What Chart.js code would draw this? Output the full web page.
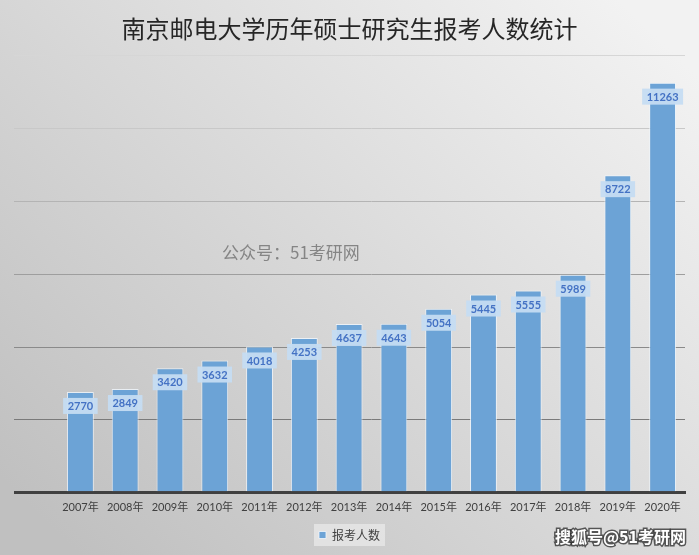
<!DOCTYPE html>
<html>
<head>
<meta charset="utf-8">
<script src="https://cdn.jsdelivr.net/npm/chart.js@4.4.0/dist/chart.umd.min.js"></script>
<style>
  html, body { margin: 0; padding: 0; background: #fff; }
</style>
</head>
<body>
<canvas id="chart" width="699" height="555"></canvas>
<script>
// data
const years = ['2007年', '2008年', '2009年', '2010年', '2011年', '2012年', '2013年',
               '2014年', '2015年', '2016年', '2017年', '2018年', '2019年', '2020年'];
const applicants = [2770, 2849, 3420, 3632, 4018, 4253, 4637, 4643, 5054, 5445, 5555, 5989, 8722, 11263];
const yMax = 12000;
const yStep = 2000;

const cjk = '"Noto Sans CJK SC", sans-serif';
const latin = 'Lato, "Noto Sans CJK SC", sans-serif';

// grid lines fade out toward the top
const gridShades = ['#404040', '#7a7a7a', '#8a8a8a', '#9e9e9e', '#b4b4b4', '#c8c8c8', '#d6d6d6'];

// grey gradient behind everything + box behind legend
const backdrop = {
    id: 'backdrop',
    beforeDraw(chart) {
        const { ctx, width, height } = chart;
        ctx.save();
        const g = ctx.createLinearGradient(80, height, 620, 0);
        g.addColorStop(0, '#c0c0c0');
        g.addColorStop(1, '#f2f2f2');
        ctx.fillStyle = g;
        ctx.fillRect(0, 0, width, height);

        const box = chart.legend && chart.legend.legendHitBoxes && chart.legend.legendHitBoxes[0];
        if (box) {
            ctx.fillStyle = 'rgba(228,228,228,0.9)';
            ctx.fillRect(box.left - 5, box.top - 5, box.width + 10, box.height + 10);
        }
        ctx.restore();
    }
};

// watermark in the plot
const watermark = {
    id: 'watermark',
    beforeDatasetsDraw(chart) {
        const { ctx } = chart;
        ctx.save();
        ctx.font = '17px ' + cjk;
        ctx.fillStyle = '#858585';
        ctx.textAlign = 'left';
        ctx.textBaseline = 'middle';
        ctx.fillText('公众号：51考研网', 222, 253);
        ctx.restore();
    },
    afterDraw(chart) {
        const { ctx } = chart;
        ctx.save();
        ctx.font = 'bold 16px ' + cjk;
        ctx.textAlign = 'right';
        ctx.textBaseline = 'middle';
        ctx.lineWidth = 3;
        ctx.strokeStyle = 'rgba(40,40,40,0.75)';
        ctx.strokeText('搜狐号@51考研网', 686, 537);
        ctx.fillStyle = '#ffffff';
        ctx.fillText('搜狐号@51考研网', 686, 537);
        ctx.restore();
    }
};

// value tags sitting just inside the top of each bar
const valueTags = {
    id: 'valueTags',
    afterDatasetsDraw(chart) {
        const { ctx } = chart;
        const meta = chart.getDatasetMeta(0);
        ctx.save();
        ctx.font = 'bold 11px Lato, sans-serif';
        ctx.textAlign = 'center';
        ctx.textBaseline = 'middle';
        meta.data.forEach((bar, i) => {
            const txt = String(applicants[i]);
            const w = ctx.measureText(txt).width + 9;
            const h = 16;
            const top = bar.y + 6;
            ctx.fillStyle = 'rgba(197,220,242,0.95)';
            ctx.fillRect(bar.x - w / 2, top, w, h);
            ctx.fillStyle = '#4472c4';
            ctx.fillText(txt, bar.x, top + h / 2 + 0.5);
        });
        ctx.restore();
    }
};

new Chart(document.getElementById('chart'), {
    type: 'bar',
    data: {
        labels: years,
        datasets: [{
            label: '报考人数',
            data: applicants,
            backgroundColor: '#6ca3d6',
            borderColor: 'rgba(240,246,252,0.8)',
            borderWidth: 1,
            barPercentage: 0.6,
            categoryPercentage: 1
        }]
    },
    options: {
        responsive: false,
        animation: false,
        devicePixelRatio: 1,
        layout: { padding: { left: 14, right: 14, top: 0, bottom: 4 } },
        scales: {
            x: {
                grid: { display: false },
                border: { color: '#404040', width: 3 },
                ticks: {
                    color: '#404040',
                    font: { family: latin, size: 11 },
                    padding: 0,
                    maxRotation: 0,
                    minRotation: 0,
                    autoSkip: false
                }
            },
            y: {
                min: 0,
                max: yMax,
                ticks: { display: false, stepSize: yStep },
                border: { display: false },
                grid: {
                    drawTicks: true,
                    tickLength: 44,
                    color: (c) => gridShades[c.index] || '#d6d6d6',
                    lineWidth: (c) => c.index === 0 ? 3 : 1
                }
            }
        },
        plugins: {
            title: {
                display: true,
                text: '南京邮电大学历年硕士研究生报考人数统计',
                color: '#262626',
                font: { family: cjk, size: 24, weight: 'normal' },
                padding: { top: 14, bottom: 13 }
            },
            legend: {
                position: 'bottom',
                labels: {
                    color: '#404040',
                    font: { family: cjk, size: 12 },
                    boxWidth: 7,
                    boxHeight: 7,
                    padding: 15
                }
            },
            tooltip: { enabled: false }
        }
    },
    plugins: [backdrop, watermark, valueTags]
});
</script>
</body>
</html>
